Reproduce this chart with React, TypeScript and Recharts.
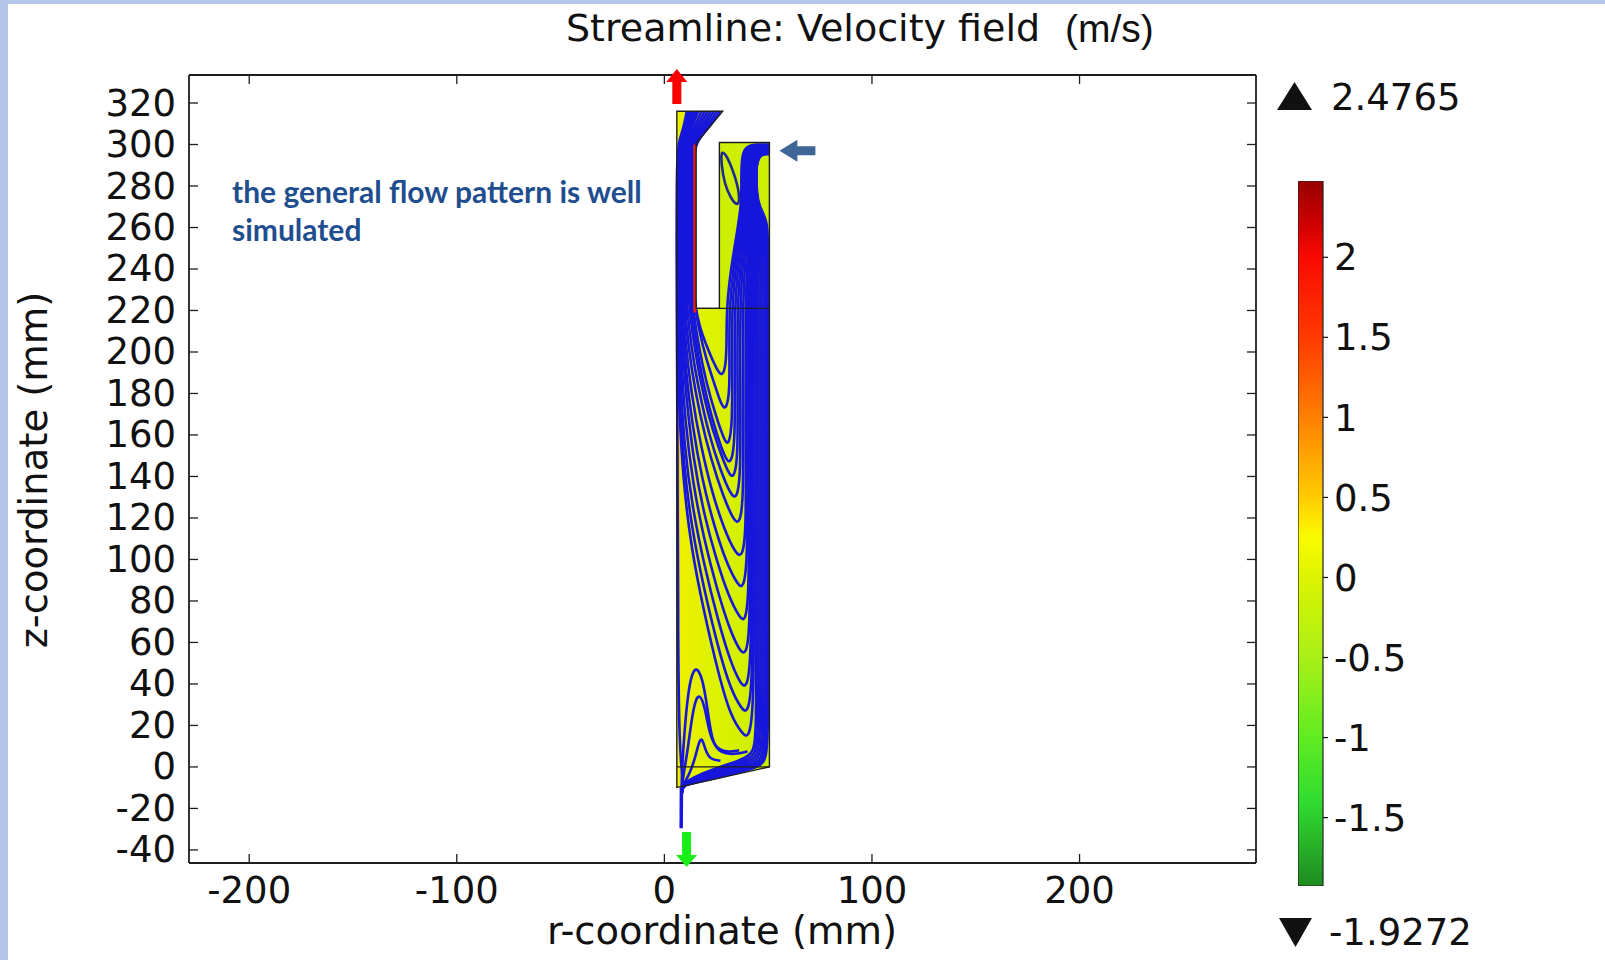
import React from 'react';
import {
  ComposedChart,
  Line,
  Area,
  XAxis,
  YAxis,
  ReferenceDot,
  BarChart,
  Bar,
} from 'recharts';

const FONT = "'DejaVu Sans', sans-serif";

// axes (mm)
const rDomain = [-229, 285];
const zDomain = [-46.3, 333.5];
const rTicks = [-200, -100, 0, 100, 200];
const zTicks = [-40, -20, 0, 20, 40, 60, 80, 100, 120, 140, 160, 180, 200, 220, 240, 260, 280, 300, 320];

// colour bar (m/s)
const velMin = -1.9272;
const velMax = 2.4765;
const velTicks = [-1.5, -1, -0.5, 0, 0.5, 1, 1.5, 2];
const velStops: [number, string][] = [
  [2.4765, '#980000'],
  [2.2, '#d00000'],
  [2.0, '#fa0a00'],
  [1.5, '#ff3a00'],
  [1.0, '#ff8000'],
  [0.5, '#ffcc00'],
  [0.25, '#fbfb00'],
  [0.0, '#dcf400'],
  [-0.5, '#a8f018'],
  [-1.0, '#60ec22'],
  [-1.4, '#30dc30'],
  [-1.9272, '#1f8a1f'],
];

// geometry pieces: r, [z low, z high]
const regionLower = [{ r: 6, v: [-9.9, 221] }, { r: 50.6, v: [0, 221] }];
const regionChannel = [{ r: 6, v: [220, 316] }, { r: 15.3, v: [220, 316] }];
const regionBox = [{ r: 26.5, v: [220, 301] }, { r: 50.6, v: [220, 301] }];
const regionWedge = [{ r: 14.8, v: [300, 316] }, { r: 15.3, v: [300.6, 316] }, { r: 28.1, v: [316, 316] }];
const wallStrip = [{ r: 6, v: [70, 221] }, { r: 7.4, v: [70, 221] }];

const outline = [[8, -9.5], [6, -9.9], [6, 316], [28.1, 316], [15.3, 300.6], [15.3, 221], [26.5, 221], [26.5, 301], [50.6, 301], [50.6, 0], [8, -9.5]];
const floorLine = [[6, 0], [50.6, 0]];
const sleeveLine = [[15.3, 221], [50.6, 221]];
const outletPipe = [[8.2, -10], [8.1, -29.5]];
const innerWallJet = [[14.65, 219], [14.65, 300]];

// streamlines (r, z)
const u1 = [[50.6, 300], [45, 300.1], [39.5, 299.4], [37.3, 295], [37, 284], [37.3, 272], [34.55, 255], [31.75, 238], [30, 221], [30, 205], [29.7, 194], [28, 188], [25.5, 191], [21.5, 200], [18, 209], [15.8, 217], [14.4, 226], [13.9, 240], [13.9, 294], [15.4, 301.5], [21.7, 308.5], [26.8, 316]];
const u2 = [[50.6, 299.7], [45, 299.8], [40.1, 299.1], [37.9, 294.7], [37.6, 284], [37.9, 272], [35.4, 255], [32.9, 238], [31.3, 221], [31.3, 200], [31.5, 181], [29.8, 172], [27.5, 174], [24, 185], [20, 197], [16.8, 210], [14.7, 222], [13.4, 233], [13.15, 245], [13.15, 294.2], [14.65, 301.5], [20.5, 308.5], [25.3, 316]];
const u3 = [[50.6, 299.3], [45, 299.4], [40.8, 298.7], [38.6, 294.3], [38.3, 284], [38.6, 272], [36.3, 255], [34, 238], [32.6, 221], [32.6, 195], [32.8, 165], [31, 155], [29, 157], [24.5, 170], [20, 186], [16.5, 203], [14.3, 217], [12.8, 232], [12.4, 248], [12.4, 294.4], [13.9, 301.5], [19.3, 308.5], [23.8, 316]];
const u4 = [[50.6, 299], [45, 299.1], [41.4, 298.4], [39.2, 294], [38.9, 284], [39.2, 272], [37.15, 255], [35.15, 238], [33.9, 221], [33.9, 190], [34.1, 156], [32, 146], [29.5, 148], [25, 161], [20.5, 177], [16.5, 196], [14, 213], [12.1, 230], [11.65, 246], [11.65, 294.6], [13.15, 301.5], [18.2, 308.5], [22.3, 316]];
const u5 = [[50.6, 298.6], [45, 298.7], [42, 298], [39.8, 293.6], [39.5, 284], [39.8, 272], [38, 255], [36.3, 238], [35.2, 221], [35.2, 185], [35.5, 149], [33.5, 139], [31, 141], [26, 154], [21, 170], [16.5, 190], [13.3, 210], [11.4, 228], [10.9, 245], [10.9, 294.8], [12.4, 301.5], [17, 308.5], [20.8, 316]];
const u6 = [[50.6, 298.3], [45, 298.4], [42.7, 297.6], [40.5, 293.3], [40.2, 284], [40.5, 272], [38.9, 255], [37.4, 238], [36.5, 221], [36.5, 180], [36.8, 140], [34.8, 129], [32, 131], [27, 143], [21.5, 160], [16.5, 182], [12.8, 203], [10.8, 222], [10.15, 240], [10.15, 295], [11.65, 301.5], [15.9, 308.5], [19.3, 316]];
const u7 = [[50.6, 297.9], [45.5, 298], [43.3, 297.3], [41.1, 292.9], [40.8, 284], [41.1, 272], [39.75, 255], [38.55, 238], [37.8, 221], [37.8, 175], [38.2, 129], [36.3, 117], [33.5, 118.5], [28.5, 130], [22.5, 148], [17, 170], [13, 192], [10.5, 212], [9.4, 232], [9.4, 295.2], [10.9, 301.5], [14.7, 308.5], [17.8, 316]];
const u8 = [[50.6, 297.6], [46, 297.7], [43.9, 297], [41.7, 292.6], [41.4, 284], [41.7, 272], [40.6, 255], [39.7, 238], [39.1, 221], [39.1, 165], [39.5, 113], [37.5, 101], [34.5, 102.5], [29, 114], [23, 132], [17.5, 155], [13, 180], [10, 205], [8.65, 230], [8.65, 295.4], [10.15, 301.5], [13.5, 308.5], [16.3, 316]];
const u8b = [[50.6, 297.4], [46, 297.5], [44.1, 296.8], [42, 292.4], [41.7, 284], [42, 272], [41, 255], [40.25, 238], [39.75, 221], [39.75, 160], [40.2, 98], [38, 86], [35.5, 87.5], [30, 98], [24, 116], [18.3, 138], [13.5, 164], [10.2, 192], [8.6, 215], [8.25, 232], [8.25, 295.5], [9.75, 301.5], [12.9, 308.5], [15.5, 316]];
const u9 = [[50.6, 297.2], [46, 297.3], [44.3, 296.6], [42.3, 292.3], [42, 284], [42.3, 272], [41.45, 255], [40.8, 238], [40.4, 221], [40.4, 150], [41, 84], [39, 70], [36.5, 71.5], [31, 82], [25, 100], [19, 122], [14, 148], [10.5, 178], [8.5, 205], [7.9, 230], [7.9, 295.6], [9.4, 301.5], [12.4, 308.5], [14.8, 316]];
const u9b = [[50.6, 297], [46, 297.1], [44.5, 296.4], [42.6, 292.1], [42.35, 284], [42.6, 272], [41.9, 255], [41.35, 238], [41.05, 221], [41.05, 140], [41.5, 66], [39.3, 54], [36.5, 55.5], [31.5, 66], [25.5, 85], [19, 110], [13.7, 137], [10, 166], [8, 198], [7.5, 225], [7.5, 295.7], [9, 301.5], [11.8, 308.5], [14, 316]];
const u10 = [[50.6, 296.9], [46, 297], [44.7, 296.3], [43, 292], [42.7, 284], [43, 272], [42.35, 255], [41.95, 238], [41.7, 221], [41.7, 130], [42.1, 50], [39.5, 38], [37, 39.5], [32, 50], [26, 70], [19, 98], [13.5, 125], [9.5, 155], [7.5, 190], [7.15, 220], [7.15, 295.8], [8.65, 301.5], [11.2, 308.5], [13.3, 316]];
const u10b = [[50.6, 296.7], [46.2, 296.8], [44.85, 296.1], [43.2, 291.8], [43, 284], [43.2, 272], [42.8, 255], [42.5, 238], [42.35, 221], [42.35, 120], [42.7, 38], [40, 26], [37.5, 27.5], [32, 37], [26, 57], [19, 86], [13.2, 115], [9.2, 146], [7.2, 182], [6.8, 212], [6.8, 230], [6.8, 295.9], [8.3, 301.5], [10.6, 308.5], [12.5, 316]];
const u11 = [[50.6, 296.5], [46.5, 296.6], [45, 295.9], [43.5, 291.5], [43.3, 284], [43.5, 272], [43.2, 255], [43.1, 238], [43, 221], [43, 110], [43.3, 26], [40.5, 14], [38, 15.5], [32, 24], [26, 45], [19, 75], [13, 105], [9, 138], [7, 175], [6.5, 205], [6.4, 230], [6.4, 296], [7.9, 301.5], [10, 308.5], [11.8, 316]];
const v1 = [[8.8, -6], [7.2, 10], [6.6, 60], [6.4, 130], [6.1, 200], [6, 221], [5.9, 240], [5.9, 296.5], [7.3, 302], [9.3, 308.5], [10.8, 316]];

const w1 = [[50.6, 296.3], [47, 296.4], [45.3, 294.9], [44, 290], [43.9, 283], [44, 276], [44.4, 270.5], [44.2, 263], [44.3, 252], [44.3, 150], [44.3, 60], [44.3, 12.9], [42.3, 6], [36.3, 3.1], [24, -0.9], [14, -5], [9.5, -7.7], [8.3, -11], [8.2, -18]];
const w2 = [[50.6, 296.1], [47, 296.2], [45.35, 294.7], [44.05, 290], [43.95, 283], [44.1, 276], [44.6, 270.5], [45, 263], [45.3, 252], [45.3, 150], [45.3, 60], [45.3, 12.1], [43.3, 5.2], [37.3, 2.3], [24, -1.7], [14, -5.5], [9.5, -7.9], [8.3, -11], [8.2, -18]];
const w3 = [[50.6, 295.95], [47, 296.05], [45.4, 294.6], [44.1, 290], [44, 283], [44.2, 276], [44.8, 270.5], [46, 263], [46.3, 252], [46.3, 150], [46.3, 60], [46.3, 11.3], [44.3, 4.4], [38.3, 1.6], [24, -2.5], [14, -6], [9.5, -8.1], [8.3, -11], [8.2, -18]];
const w4 = [[50.6, 295.8], [47, 295.9], [45.45, 294.4], [44.15, 290], [44.1, 283], [44.3, 276], [45, 270.5], [47, 263], [47.3, 252], [47.3, 150], [47.3, 60], [47.3, 10.6], [45.3, 3.6], [39.3, 0.8], [24, -3.3], [14, -6.5], [9.5, -8.3], [8.3, -11], [8.2, -18]];
const w5 = [[50.6, 295.65], [47.5, 295.75], [45.5, 294.3], [44.2, 290], [44.2, 283], [44.4, 276], [45.2, 270.5], [48, 263], [48.3, 252], [48.3, 150], [48.3, 60], [48.3, 9.8], [46.3, 2.8], [40.3, 0], [24, -4.1], [14, -7], [9.5, -8.5], [8.3, -11], [8.2, -18]];
const w6 = [[50.6, 295.5], [47.5, 295.6], [45.55, 294.1], [44.25, 290], [44.3, 283], [44.5, 276], [45.4, 270.5], [48.9, 263], [49.2, 252], [49.2, 150], [49.2, 60], [49.2, 9.1], [47.2, 2.1], [41.2, -0.7], [24, -4.8], [14, -7.5], [9.5, -8.7], [8.3, -11], [8.2, -18]];
const w7 = [[50.6, 295.35], [48, 295.45], [45.6, 294], [44.3, 290], [44.4, 283], [44.6, 276], [45.6, 270.5], [49.7, 263], [50, 252], [50, 150], [50, 60], [50, 8.5], [48, 1.5], [42, -1.3], [24, -5.5], [14, -7.9], [9.5, -8.9], [8.3, -11], [8.2, -18]];

const l1 = [[40, 7.5], [34, 6], [27, 6.5], [23, 12], [21, 26], [19, 40], [16, 48.5], [13.2, 45.5], [11.2, 34], [9.6, 16], [8.7, 2], [8.3, -9], [8.2, -16]];
const l2 = [[36, 8], [30, 7], [24.5, 9], [21.5, 17], [19.5, 29], [17, 35.5], [14.8, 32], [13, 22], [11.2, 8], [9.5, -2], [8.5, -9]];
const l3 = [[27, 3], [22, 3.5], [19.8, 8], [18, 14.6], [16.5, 11.5], [15, 5], [12.5, -2.5], [9.5, -8]];

const eddy = [[27.3, 297], [27.5, 290], [29, 281], [32, 274], [35, 270.5], [36.3, 272.5], [35.5, 280], [32.5, 289], [29.5, 295.5]];

const toPts = (a: number[][]) => a.map(([r, z]) => ({ r, z }));
const streamlines = [u1, u2, u3, u4, u5, u6, u7, u8, u8b, u9, u9b, u10, u10b, u11, v1, w1, w2, w3, w4, w5, w6, w7, l1, l2, l3].map(toPts);

const LINE_BLUE = '#1616dc';
const FRAME = '#1e1e1e';

const XTick = ({ x, y, payload }: any) => (
  <g>
    <line x1={x} x2={x} y1={y} y2={y - 9} stroke={FRAME} strokeWidth={1.3} />
    <text x={x} y={y + 27} textAnchor="middle" dominantBaseline="central" fontFamily={FONT} fontSize={37} fill="#111">
      {payload.value}
    </text>
  </g>
);

const XTopTick = ({ x, y }: any) => <line x1={x} x2={x} y1={y} y2={y + 9} stroke={FRAME} strokeWidth={1.3} />;

const YTick = ({ x, y, payload }: any) => (
  <g>
    <line x1={x} x2={x + 9} y1={y} y2={y} stroke={FRAME} strokeWidth={1.3} />
    <text x={x - 13} y={y} textAnchor="end" dominantBaseline="central" fontFamily={FONT} fontSize={37} fill="#111">
      {payload.value}
    </text>
  </g>
);

const YRightTick = ({ x, y }: any) => <line x1={x} x2={x - 9} y1={y} y2={y} stroke={FRAME} strokeWidth={1.3} />;

const upArrow = (color: string) => (p: any) => (
  <polygon
    points={`${p.cx - 4.5},${p.cy + 1} ${p.cx - 4.5},${p.cy - 21} ${p.cx - 10.5},${p.cy - 21} ${p.cx},${p.cy - 34} ${p.cx + 10.5},${p.cy - 21} ${p.cx + 4.5},${p.cy - 21} ${p.cx + 4.5},${p.cy + 1}`}
    fill={color}
  />
);

const downArrow = (color: string) => (p: any) => (
  <polygon
    points={`${p.cx - 4.5},${p.cy - 18} ${p.cx - 4.5},${p.cy + 5} ${p.cx - 10.5},${p.cy + 5} ${p.cx},${p.cy + 17} ${p.cx + 10.5},${p.cy + 5} ${p.cx + 4.5},${p.cy + 5} ${p.cx + 4.5},${p.cy - 18}`}
    fill={color}
  />
);

const leftArrow = (color: string) => (p: any) => (
  <polygon
    points={`${p.cx},${p.cy} ${p.cx + 18},${p.cy - 11} ${p.cx + 18},${p.cy - 4.5} ${p.cx + 36},${p.cy - 4.5} ${p.cx + 36},${p.cy + 4.5} ${p.cx + 18},${p.cy + 4.5} ${p.cx + 18},${p.cy + 11}`}
    fill={color}
  />
);

const velData = [{ name: 'U', v: [velMin, velMax] }];

export default function App() {
  return (
    <div style={{ position: 'fixed', left: 0, top: 0, width: 1605, height: 960, background: '#fff', overflow: 'hidden' }}>
      <div style={{ position: 'absolute', left: 0, top: 0, width: 8, height: 960, background: '#b4c7e9' }} />
      <div style={{ position: 'absolute', left: 0, top: 0, width: 1605, height: 4, background: '#b4c7e9' }} />

      <div style={{ position: 'absolute', left: 0, top: 0 }}>
        <ComposedChart width={1605} height={960} margin={{ top: 74, left: 89, right: 348, bottom: 37 }}>
          <defs>
            <linearGradient id="lowGrad" x1="0" y1="0" x2="1" y2="0">
              <stop offset="0" stopColor="#f0ef00" />
              <stop offset="0.35" stopColor="#def200" />
              <stop offset="1" stopColor="#c9ef00" />
            </linearGradient>
          </defs>
          <XAxis
            type="number"
            dataKey="r"
            domain={rDomain}
            ticks={rTicks}
            interval={0}
            allowDataOverflow
            height={60}
            tickSize={0}
            tickMargin={0}
            tickLine={false}
            axisLine={{ stroke: FRAME, strokeWidth: 1.8 }}
            tick={(p: any) => <XTick {...p} />}
          />
          <XAxis
            xAxisId="top"
            orientation="top"
            type="number"
            dataKey="r"
            domain={rDomain}
            ticks={rTicks}
            interval={0}
            allowDataOverflow
            height={1}
            tickSize={0}
            tickMargin={0}
            tickLine={false}
            axisLine={{ stroke: FRAME, strokeWidth: 1.8 }}
            tick={(p: any) => <XTopTick {...p} />}
          />
          <YAxis
            type="number"
            domain={zDomain}
            ticks={zTicks}
            interval={0}
            allowDataOverflow
            width={100}
            tickSize={0}
            tickMargin={0}
            tickLine={false}
            axisLine={{ stroke: FRAME, strokeWidth: 1.8 }}
            tick={(p: any) => <YTick {...p} />}
          />
          <YAxis
            yAxisId="right"
            orientation="right"
            type="number"
            domain={zDomain}
            ticks={zTicks}
            interval={0}
            allowDataOverflow
            width={1}
            tickSize={0}
            tickMargin={0}
            tickLine={false}
            axisLine={{ stroke: FRAME, strokeWidth: 1.8 }}
            tick={(p: any) => <YRightTick {...p} />}
          />

          <Area data={regionLower} dataKey="v" type="linear" fill="url(#lowGrad)" fillOpacity={1} stroke="none" isAnimationActive={false} />
          <Area data={regionChannel} dataKey="v" type="linear" fill="#e8f000" fillOpacity={1} stroke="none" isAnimationActive={false} />
          <Area data={regionBox} dataKey="v" type="linear" fill="#ccef05" fillOpacity={1} stroke="none" isAnimationActive={false} />
          <Area data={regionWedge} dataKey="v" type="linear" fill="#eaf000" fillOpacity={1} stroke="none" isAnimationActive={false} />
          <Area data={wallStrip} dataKey="v" type="linear" fill="#ff9a00" fillOpacity={0.55} stroke="none" isAnimationActive={false} />

          {streamlines.map((d, i) => (
            <Line
              key={i}
              data={d}
              dataKey="z"
              type="basis"
              stroke={LINE_BLUE}
              strokeWidth={2.6}
              dot={false}
              activeDot={false}
              isAnimationActive={false}
            />
          ))}
          <Line data={toPts(eddy)} dataKey="z" type="basisClosed" stroke="#1e2a90" strokeWidth={2.6} dot={false} activeDot={false} isAnimationActive={false} />
          <Line data={toPts(outletPipe)} dataKey="z" type="linear" stroke={LINE_BLUE} strokeWidth={3.5} dot={false} activeDot={false} isAnimationActive={false} />
          <Line data={toPts(innerWallJet)} dataKey="z" type="linear" stroke="#f22000" strokeWidth={2.8} dot={false} activeDot={false} isAnimationActive={false} />

          <Line data={toPts(outline)} dataKey="z" type="linear" stroke={FRAME} strokeWidth={1.4} dot={false} activeDot={false} isAnimationActive={false} />
          <Line data={toPts(floorLine)} dataKey="z" type="linear" stroke={FRAME} strokeWidth={1.3} dot={false} activeDot={false} isAnimationActive={false} />
          <Line data={toPts(sleeveLine)} dataKey="z" type="linear" stroke={FRAME} strokeWidth={1.3} dot={false} activeDot={false} isAnimationActive={false} />

          <ReferenceDot x={6} y={320} r={0} ifOverflow="visible" shape={upArrow('#fa0000')} />
          <ReferenceDot x={10.7} y={-40} r={0} ifOverflow="visible" shape={downArrow('#18ee18')} />
          <ReferenceDot x={55.4} y={297} r={0} ifOverflow="visible" shape={leftArrow('#3e6696')} />
        </ComposedChart>
      </div>

      <div style={{ position: 'absolute', left: 1298, top: 181 }}>
        <BarChart width={125} height={705} data={velData} margin={{ top: 0, right: 0, bottom: 0, left: 0 }} barCategoryGap={0}>
          <defs>
            <linearGradient id="velGrad" x1="0" y1="0" x2="0" y2="1">
              {velStops.map(([v, c]) => (
                <stop key={v} offset={(velMax - v) / (velMax - velMin)} stopColor={c} />
              ))}
            </linearGradient>
          </defs>
          <XAxis dataKey="name" hide />
          <YAxis
            orientation="right"
            type="number"
            domain={[velMin, velMax]}
            ticks={velTicks}
            interval={0}
            allowDataOverflow
            width={100}
            axisLine={false}
            tickLine={{ stroke: '#111', strokeWidth: 1.2 }}
            tickSize={5}
            tickMargin={6}
            tick={{ fontFamily: FONT, fontSize: 37, fill: '#111' }}
          />
          <Bar dataKey="v" fill="url(#velGrad)" stroke="#222" strokeWidth={1.2} isAnimationActive={false} />
        </BarChart>
      </div>

      <svg width={1605} height={960} style={{ position: 'absolute', left: 0, top: 0, pointerEvents: 'none' }}>
        <text x={566} y={41} fontFamily={FONT} fontSize={38} fill="#111">Streamline: Velocity field</text>
        <text x={1065} y={42} fontFamily="'Liberation Sans', Arial, sans-serif" fontSize={39} fill="#111">(m/s)</text>
        <text x={722} y={930} textAnchor="middle" dominantBaseline="central" fontFamily={FONT} fontSize={38.5} fill="#111">r-coordinate (mm)</text>
        <text
          x={33}
          y={470}
          textAnchor="middle"
          dominantBaseline="central"
          fontFamily={FONT}
          fontSize={38.5}
          fill="#111"
          transform="rotate(-90 33 470)"
        >
          z-coordinate (mm)
        </text>
        <text x={232} y={191} dominantBaseline="central" fontFamily="Lato, 'Open Sans', sans-serif" fontWeight={700} fontSize={30} fill="#1f4e8f">
          the general flow pattern is well
        </text>
        <text x={232} y={229} dominantBaseline="central" fontFamily="Lato, 'Open Sans', sans-serif" fontWeight={700} fontSize={30} fill="#1f4e8f">
          simulated
        </text>
        <polygon points="1277,110 1312,110 1294.5,82" fill="#111" />
        <text x={1331} y={97} dominantBaseline="central" fontFamily={FONT} fontSize={37} fill="#111">2.4765</text>
        <polygon points="1279,918 1312,918 1295.5,947" fill="#111" />
        <text x={1329} y={932} dominantBaseline="central" fontFamily={FONT} fontSize={37} fill="#111">-1.9272</text>
      </svg>
    </div>
  );
}
